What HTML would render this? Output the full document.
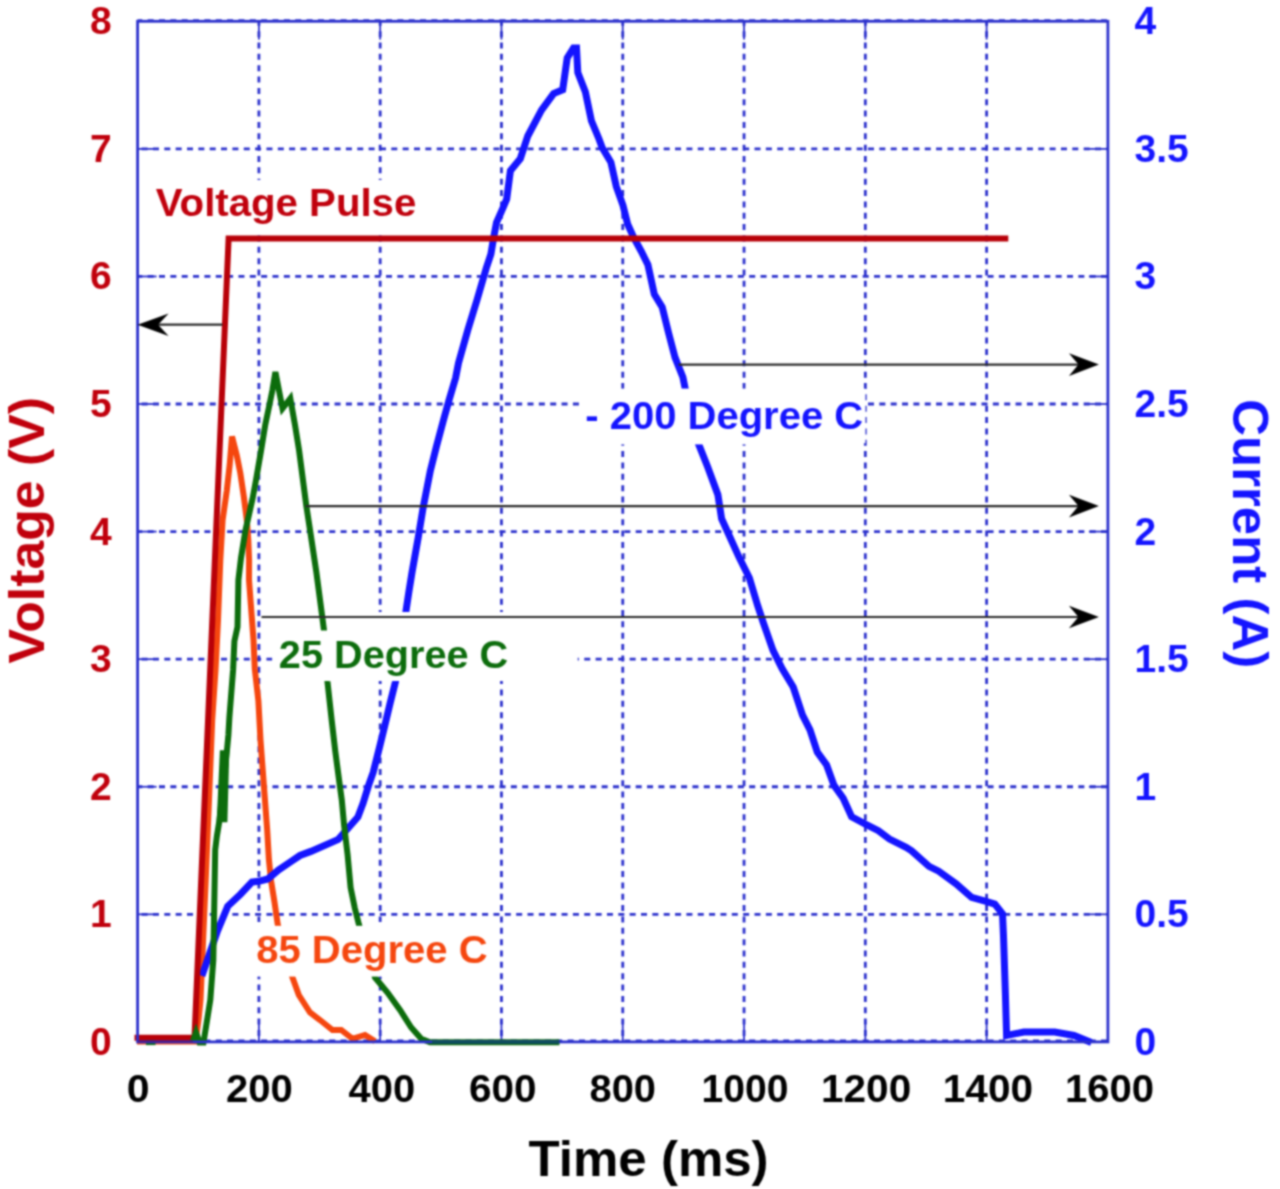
<!DOCTYPE html>
<html><head><meta charset="utf-8"><style>
html,body{margin:0;padding:0;background:#fff;}
svg{display:block;}
text{font-family:"Liberation Sans",sans-serif;font-weight:bold;}
.g{stroke:#2b30cc;stroke-width:2.8;stroke-dasharray:6.0 5.35;fill:none;}
.t{stroke:#2b30cc;stroke-width:1.8;}
.c{fill:none;stroke-linejoin:miter;stroke-linecap:butt;stroke-width:6;}
</style></head><body>
<svg width="1280" height="1189" viewBox="0 0 1280 1189">
<defs><filter id="bl" x="0" y="0" width="1280" height="1189" filterUnits="userSpaceOnUse" color-interpolation-filters="sRGB"><feConvolveMatrix order="5" kernelMatrix="1 9 17 9 1 9 58 107 58 9 17 107 198 107 17 9 58 107 58 9 1 9 17 9 1" divisor="1002" edgeMode="duplicate"/></filter></defs>
<rect width="1280" height="1189" fill="#fff"/>
<g filter="url(#bl)">
<rect width="1280" height="1189" fill="#fff"/>
<line x1="137.6" y1="1041.00" x2="1107.9" y2="1041.00" class="g" style="stroke-dashoffset:1.30"/>
<line x1="137.6" y1="914.33" x2="1107.9" y2="914.33" class="g" style="stroke-dashoffset:7.35"/>
<line x1="137.6" y1="786.75" x2="1107.9" y2="786.75" class="g" style="stroke-dashoffset:1.30"/>
<line x1="137.6" y1="659.18" x2="1107.9" y2="659.18" class="g" style="stroke-dashoffset:7.35"/>
<line x1="137.6" y1="531.60" x2="1107.9" y2="531.60" class="g" style="stroke-dashoffset:1.30"/>
<line x1="137.6" y1="404.02" x2="1107.9" y2="404.02" class="g" style="stroke-dashoffset:7.35"/>
<line x1="137.6" y1="276.45" x2="1107.9" y2="276.45" class="g" style="stroke-dashoffset:1.30"/>
<line x1="137.6" y1="148.88" x2="1107.9" y2="148.88" class="g" style="stroke-dashoffset:7.35"/>
<line x1="137.6" y1="20.60" x2="1107.9" y2="20.60" class="g" style="stroke-dashoffset:1.30"/>
<line x1="258.89" y1="21.3" x2="258.89" y2="1041.9" class="g" style="stroke-dashoffset:1.50"/>
<line x1="380.17" y1="21.3" x2="380.17" y2="1041.9" class="g" style="stroke-dashoffset:1.50"/>
<line x1="501.46" y1="21.3" x2="501.46" y2="1041.9" class="g" style="stroke-dashoffset:1.50"/>
<line x1="622.75" y1="21.3" x2="622.75" y2="1041.9" class="g" style="stroke-dashoffset:1.50"/>
<line x1="744.04" y1="21.3" x2="744.04" y2="1041.9" class="g" style="stroke-dashoffset:1.50"/>
<line x1="865.33" y1="21.3" x2="865.33" y2="1041.9" class="g" style="stroke-dashoffset:1.50"/>
<line x1="986.61" y1="21.3" x2="986.61" y2="1041.9" class="g" style="stroke-dashoffset:1.50"/>
<line x1="137.6" y1="914.33" x2="156.6" y2="914.33" class="t"/>
<line x1="1088.9" y1="914.33" x2="1107.9" y2="914.33" class="t"/>
<line x1="137.6" y1="786.75" x2="156.6" y2="786.75" class="t"/>
<line x1="1088.9" y1="786.75" x2="1107.9" y2="786.75" class="t"/>
<line x1="137.6" y1="659.18" x2="156.6" y2="659.18" class="t"/>
<line x1="1088.9" y1="659.18" x2="1107.9" y2="659.18" class="t"/>
<line x1="137.6" y1="531.60" x2="156.6" y2="531.60" class="t"/>
<line x1="1088.9" y1="531.60" x2="1107.9" y2="531.60" class="t"/>
<line x1="137.6" y1="404.02" x2="156.6" y2="404.02" class="t"/>
<line x1="1088.9" y1="404.02" x2="1107.9" y2="404.02" class="t"/>
<line x1="137.6" y1="276.45" x2="156.6" y2="276.45" class="t"/>
<line x1="1088.9" y1="276.45" x2="1107.9" y2="276.45" class="t"/>
<line x1="137.6" y1="148.88" x2="156.6" y2="148.88" class="t"/>
<line x1="1088.9" y1="148.88" x2="1107.9" y2="148.88" class="t"/>
<line x1="258.89" y1="21.3" x2="258.89" y2="39.6" class="t"/>
<line x1="258.89" y1="1021.5000000000001" x2="258.89" y2="1041.9" class="t"/>
<line x1="380.17" y1="21.3" x2="380.17" y2="39.6" class="t"/>
<line x1="380.17" y1="1021.5000000000001" x2="380.17" y2="1041.9" class="t"/>
<line x1="501.46" y1="21.3" x2="501.46" y2="39.6" class="t"/>
<line x1="501.46" y1="1021.5000000000001" x2="501.46" y2="1041.9" class="t"/>
<line x1="622.75" y1="21.3" x2="622.75" y2="39.6" class="t"/>
<line x1="622.75" y1="1021.5000000000001" x2="622.75" y2="1041.9" class="t"/>
<line x1="744.04" y1="21.3" x2="744.04" y2="39.6" class="t"/>
<line x1="744.04" y1="1021.5000000000001" x2="744.04" y2="1041.9" class="t"/>
<line x1="865.33" y1="21.3" x2="865.33" y2="39.6" class="t"/>
<line x1="865.33" y1="1021.5000000000001" x2="865.33" y2="1041.9" class="t"/>
<line x1="986.61" y1="21.3" x2="986.61" y2="39.6" class="t"/>
<line x1="986.61" y1="1021.5000000000001" x2="986.61" y2="1041.9" class="t"/>
<rect x="240" y="922" width="255" height="53.8" fill="#fff"/>
<polyline class="c" stroke="#f5460e" stroke-linejoin="round" points="137.0,1041.5 195.5,1041.5 198.5,1020.0 200.5,1000.0 205.7,880.0 209.0,800.0 212.2,720.0 215.5,670.0 218.0,620.0 220.3,560.0 222.6,520.0 226.8,490.6 229.7,464.7 232.0,436.5 236.8,455.3 240.3,473.0 243.8,496.5 246.8,520.0 248.3,540.0 249.1,560.0 249.0,580.0 253.5,640.0 254.8,669.0 258.4,701.0 260.5,740.0 263.9,785.8 267.2,830.0 268.9,859.4 271.0,880.4 274.4,901.4 277.7,924.1 284.0,950.0 292.5,977.5 298.8,995.0 310.0,1012.5 320.0,1020.0 332.5,1030.0 341.2,1030.0 352.5,1038.8 365.0,1035.0 375.0,1041.2"/>
<polyline class="c" style="stroke-width:7" stroke="#1414ff" stroke-linejoin="round" points="201.9,975.9 210.3,951.7 217.1,932.0 227.7,906.3 240.5,894.2 251.9,882.0 258.7,881.3 267.8,879.0 278.4,870.0 292.0,860.9 300.0,855.5 310.9,851.4 338.3,839.4 357.9,817.0 363.1,803.2 368.5,785.7 373.2,772.3 379.3,748.1 384.6,726.5 390.0,703.6 395.4,682.1 401.0,646.0 406.1,610.3 409.0,591.0 412.1,571.9 418.2,537.6 423.2,507.3 430.3,470.9 436.4,446.7 443.4,420.4 449.0,400.2 455.6,378.0 458.5,363.0 467.8,330.0 477.0,300.0 486.3,268.0 490.9,254.1 493.7,237.4 496.5,222.6 503.0,207.8 506.7,199.0 510.4,170.8 520.3,158.7 527.8,136.0 541.5,110.2 553.6,93.6 562.7,89.8 567.2,58.0 573.5,48.0 576.5,48.0 577.8,72.4 585.4,92.1 591.4,120.8 599.0,139.0 602.1,147.5 610.9,162.3 616.3,186.6 623.0,205.4 627.7,224.3 633.8,237.7 641.2,251.2 647.9,264.7 654.3,294.3 662.2,307.2 668.6,333.0 675.0,357.3 682.9,377.3 685.8,391.6 692.0,418.0 698.5,443.9 707.7,467.0 717.9,494.7 721.6,518.8 730.0,537.3 739.2,557.6 749.4,578.0 757.7,605.7 763.2,622.4 773.0,650.3 782.2,668.8 793.3,687.3 802.5,715.1 810.0,729.9 817.3,752.1 826.6,765.0 834.0,785.4 843.2,798.3 851.6,816.8 865.4,824.2 878.4,830.7 889.5,839.0 906.1,847.4 911.6,850.9 929.0,866.4 938.7,871.2 956.1,883.8 971.6,897.4 985.1,901.2 994.8,904.1 1002.5,913.8 1003.5,936.0 1005.4,994.0 1006.6,1035.5 1023.8,1032.0 1054.7,1032.0 1074.0,1035.5 1091.4,1042.4"/>
<rect x="581" y="388.6" width="284.4" height="54.6" fill="#fff"/>
<rect x="585" y="391.2" width="277" height="53.2" fill="#fff"/>
<rect x="272.5" y="612" width="305.2" height="69" fill="#fff"/>
<rect x="150" y="180" width="280" height="52" fill="#fff"/>
<polyline class="c" stroke="#b80008" points="134.5,1037.8 194.5,1037.8 228.6,238.6 1008.3,238.6"/>
<line x1="146" y1="1042.6" x2="155.5" y2="1042.6" stroke="#0c6c0c" stroke-width="5"/><polyline class="c" stroke="#0c6c0c" stroke-linejoin="round" points="192.5,1042.5 196.0,1032.5 199.5,1042.5 203.5,1042.5 210.3,1000.0 213.3,960.0 215.2,850.0 216.9,836.0 219.2,822.0 226.8,752.0 228.4,735.0 229.4,717.1 233.1,670.0 234.4,641.2 237.5,627.0 238.4,580.0 241.0,558.0 245.5,530.0 252.5,499.0 256.0,480.0 261.0,451.0 265.3,424.6 269.3,405.5 272.4,390.3 275.4,372.0 282.5,408.5 290.3,398.4 295.0,425.0 299.1,450.5 306.2,505.0 310.2,531.3 316.3,571.7 322.3,617.2 324.0,630.3 327.5,682.0 331.7,720.4 335.2,750.7 339.2,781.0 341.8,800.0 344.1,825.3 347.6,854.7 350.6,887.6 354.7,907.6 358.8,924.1 366.0,950.0 375.0,977.5 387.5,992.5 400.0,1010.0 411.2,1027.5 421.2,1038.8 430.0,1042.2 559.4,1042.2"/>
<polygon points="219.9,750.2 229.3,750.2 227.4,822.2 216.7,822.2" fill="#0c6c0c"/>
<rect x="272.5" y="630.5" width="250" height="50.5" fill="#fff"/>
<rect x="250" y="925.8" width="240" height="50.8" fill="#fff"/>
<rect x="137.6" y="21.3" width="970.3" height="1020.6" fill="none" stroke="#2b30cc" stroke-width="2.8"/>
<line x1="432" y1="1042.2" x2="559.4" y2="1042.2" stroke="#0e4c5e" stroke-width="3"/>
<line x1="137.6" y1="1041.2" x2="193" y2="1041.2" stroke="#5a1070" stroke-width="2" opacity="0.8"/>
<line x1="222.5" y1="324.7" x2="155.6" y2="324.7" stroke="#2a2a2a" stroke-width="2.2"/><path d="M137.6,324.7 L168.6,313.4 L158.1,324.7 L168.6,336.0 Z" fill="#000"/>
<line x1="678.6" y1="364.6" x2="1080.9" y2="364.6" stroke="#2a2a2a" stroke-width="2.2"/><path d="M1098.9,364.6 L1068.9,353.3 L1078.4,364.6 L1068.9,375.90000000000003 Z" fill="#000"/>
<line x1="305.5" y1="506.1" x2="1080.9" y2="506.1" stroke="#2a2a2a" stroke-width="2.2"/><path d="M1098.9,506.1 L1068.9,494.8 L1078.4,506.1 L1068.9,517.4 Z" fill="#000"/>
<line x1="261.5" y1="617.0" x2="1080.9" y2="617.0" stroke="#2a2a2a" stroke-width="2.2"/><path d="M1098.9,617.0 L1068.9,605.7 L1078.4,617.0 L1068.9,628.3 Z" fill="#000"/>
<text x="155.8" y="216.2" fill="#c0000c" font-size="39" text-anchor="start" textLength="260.5" lengthAdjust="spacingAndGlyphs">Voltage Pulse</text>
<text x="585.2" y="429.2" fill="#1414ff" font-size="39" text-anchor="start" textLength="278" lengthAdjust="spacingAndGlyphs">- 200 Degree C</text>
<text x="278.8" y="667.5" fill="#0c6c0c" font-size="39" text-anchor="start" textLength="229.5" lengthAdjust="spacingAndGlyphs">25 Degree C</text>
<text x="256.2" y="963.4" fill="#f5460e" font-size="39" text-anchor="start" textLength="231.5" lengthAdjust="spacingAndGlyphs">85 Degree C</text>
<text x="111.6" y="1054.9" fill="#c0000c" font-size="39" text-anchor="end">0</text>
<text x="111.6" y="927.325" fill="#c0000c" font-size="39" text-anchor="end">1</text>
<text x="111.6" y="799.75" fill="#c0000c" font-size="39" text-anchor="end">2</text>
<text x="111.6" y="672.1750000000001" fill="#c0000c" font-size="39" text-anchor="end">3</text>
<text x="111.6" y="544.6" fill="#c0000c" font-size="39" text-anchor="end">4</text>
<text x="111.6" y="417.025" fill="#c0000c" font-size="39" text-anchor="end">5</text>
<text x="111.6" y="289.45000000000005" fill="#c0000c" font-size="39" text-anchor="end">6</text>
<text x="111.6" y="161.875" fill="#c0000c" font-size="39" text-anchor="end">7</text>
<text x="111.6" y="34.299999999999955" fill="#c0000c" font-size="39" text-anchor="end">8</text>
<text x="1134.5" y="1054.9" fill="#1414ff" font-size="39" text-anchor="start">0</text>
<text x="1134.5" y="927.325" fill="#1414ff" font-size="39" text-anchor="start">0.5</text>
<text x="1134.5" y="799.75" fill="#1414ff" font-size="39" text-anchor="start">1</text>
<text x="1134.5" y="672.1750000000001" fill="#1414ff" font-size="39" text-anchor="start">1.5</text>
<text x="1134.5" y="544.6" fill="#1414ff" font-size="39" text-anchor="start">2</text>
<text x="1134.5" y="417.025" fill="#1414ff" font-size="39" text-anchor="start">2.5</text>
<text x="1134.5" y="289.45000000000005" fill="#1414ff" font-size="39" text-anchor="start">3</text>
<text x="1134.5" y="161.875" fill="#1414ff" font-size="39" text-anchor="start">3.5</text>
<text x="1134.5" y="34.299999999999955" fill="#1414ff" font-size="39" text-anchor="start">4</text>
<text x="138.11" y="1102" fill="#000" font-size="39" text-anchor="middle" textLength="22.83" lengthAdjust="spacingAndGlyphs">0</text>
<text x="259.48" y="1102" fill="#000" font-size="39" text-anchor="middle" textLength="66.73" lengthAdjust="spacingAndGlyphs">200</text>
<text x="381.79" y="1102" fill="#000" font-size="39" text-anchor="middle" textLength="66.6" lengthAdjust="spacingAndGlyphs">400</text>
<text x="502.78" y="1102" fill="#000" font-size="39" text-anchor="middle" textLength="67.57" lengthAdjust="spacingAndGlyphs">600</text>
<text x="622.74" y="1102" fill="#000" font-size="39" text-anchor="middle" textLength="66.42" lengthAdjust="spacingAndGlyphs">800</text>
<text x="745.04" y="1102" fill="#000" font-size="39" text-anchor="middle" textLength="86.95" lengthAdjust="spacingAndGlyphs">1000</text>
<text x="866.1" y="1102" fill="#000" font-size="39" text-anchor="middle" textLength="90.23" lengthAdjust="spacingAndGlyphs">1200</text>
<text x="987.9" y="1102" fill="#000" font-size="39" text-anchor="middle" textLength="90.23" lengthAdjust="spacingAndGlyphs">1400</text>
<text x="1109.58" y="1102" fill="#000" font-size="39" text-anchor="middle" textLength="89.14" lengthAdjust="spacingAndGlyphs">1600</text>
<text x="528.6" y="1176" fill="#000" font-size="50" text-anchor="start" textLength="240" lengthAdjust="spacingAndGlyphs">Time (ms)</text>
<text transform="translate(43.8,663.5) rotate(-90)" fill="#c0000c" font-size="50" textLength="266.5" lengthAdjust="spacingAndGlyphs">Voltage (V)</text>
<text transform="translate(1232.6,399.2) rotate(90)" fill="#1414ff" font-size="50" textLength="269" lengthAdjust="spacingAndGlyphs">Current (A)</text>
</g></svg>
</body></html>
